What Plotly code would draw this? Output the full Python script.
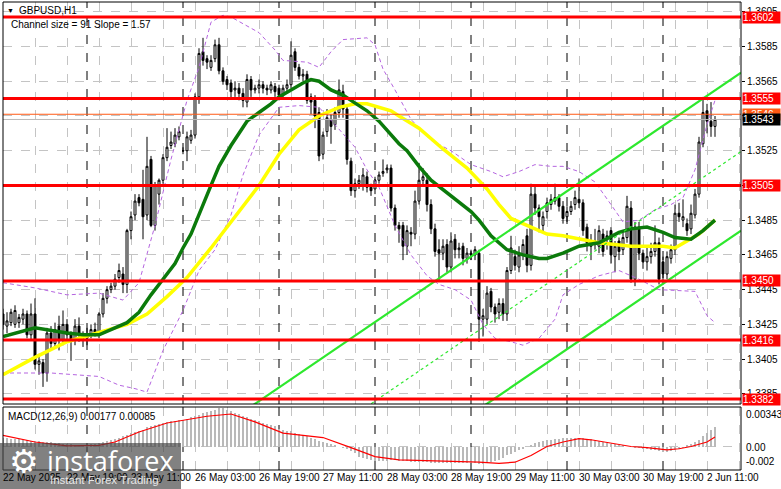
import plotly.graph_objects as go
from datetime import datetime, timedelta

# ---------------- data ----------------
bar_open = [
1.3431,1.3424,1.3426,1.3425,1.3426,1.3428,1.3431,1.3419,1.3431,1.3402,
1.3403,1.3397,1.3420,1.3414,1.3424,1.3416,1.3425,1.3419,1.3416,1.3424,
1.3419,1.3417,1.3419,1.3422,1.3419,1.3431,1.3440,1.3445,1.3447,1.3452,
1.3454,1.3448,1.3479,1.3488,1.3498,1.3497,1.3488,1.3520,1.3482,1.3500,
1.3508,1.3521,1.3528,1.3529,1.3533,1.3525,1.3525,1.3531,1.3534,1.3556,
1.3582,1.3578,1.3573,1.3578,1.3586,1.3571,1.3566,1.3564,1.3560,1.3561,
1.3558,1.3553,1.3566,1.3560,1.3561,1.3563,1.3561,1.3560,1.3562,1.3561,
1.3557,1.3561,1.3563,1.3582,1.3573,1.3568,1.3569,1.3556,1.3554,1.3547,
1.3523,1.3536,1.3543,1.3540,1.3547,1.3559,1.3549,1.3519,1.3502,1.3506,
1.3505,1.3510,1.3504,1.3503,1.3508,1.3512,1.3514,1.3515,1.3492,1.3482,
1.3482,1.3470,1.3478,1.3477,1.3496,1.3508,1.3508,1.3494,1.3480,1.3468,
1.3466,1.3471,1.3458,1.3474,1.3468,1.3470,1.3463,1.3466,1.3465,1.3466,
1.3428,1.3428,1.3444,1.3435,1.3432,1.3437,1.3431,1.3456,1.3464,1.3458,
1.3465,1.3476,1.3459,1.3500,1.3492,1.3482,1.3490,1.3494,1.3496,1.3498,
1.3493,1.3487,1.3490,1.3494,1.3497,1.3495,1.3481,1.3470,1.3472,1.3470,
1.3477,1.3475,1.3479,1.3464,1.3473,1.3468,1.3475,1.3492,1.3451,1.3481,
1.3466,1.3461,1.3464,1.3467,1.3472,1.3461,1.3454,1.3463,1.3468,1.3489,
1.3485,1.3483,1.3480,1.3488,1.3500,1.3529,1.3548,1.3542,1.3539]
bar_high = [
1.3434,1.3432,1.3434,1.3436,1.3431,1.3434,1.3433,1.3437,1.3440,1.3408,
1.3405,1.3423,1.3424,1.3426,1.3430,1.3433,1.3428,1.3421,1.3428,1.3429,
1.3421,1.3423,1.3425,1.3426,1.3432,1.3443,1.3447,1.3449,1.3454,1.3460,
1.3458,1.3480,1.3490,1.3500,1.3500,1.3514,1.3533,1.3522,1.3507,1.3509,
1.3523,1.3538,1.3536,1.3538,1.3539,1.3527,1.3536,1.3537,1.3558,1.3584,
1.3590,1.3580,1.3580,1.3589,1.3590,1.3573,1.3568,1.3566,1.3565,1.3564,
1.3561,1.3569,1.3568,1.3563,1.3566,1.3565,1.3563,1.3565,1.3564,1.3563,
1.3563,1.3566,1.3588,1.3584,1.3575,1.3572,1.3571,1.3558,1.3557,1.3550,
1.3536,1.3549,1.3546,1.3550,1.3566,1.3563,1.3551,1.3521,1.3509,1.3511,
1.3515,1.3513,1.3506,1.3510,1.3513,1.3520,1.3517,1.3517,1.3494,1.3484,
1.3484,1.3482,1.3481,1.3502,1.3518,1.3515,1.3512,1.3497,1.3483,1.3474,
1.3474,1.3474,1.3478,1.3477,1.3472,1.3472,1.3469,1.3468,1.3470,1.3468,
1.3434,1.3447,1.3446,1.3437,1.3440,1.3440,1.3458,1.3476,1.3468,1.3470,
1.3474,1.3480,1.3506,1.3505,1.3494,1.3490,1.3498,1.3500,1.3506,1.3500,
1.3496,1.3493,1.3496,1.3502,1.3509,1.3497,1.3483,1.3477,1.3480,1.3482,
1.3480,1.3479,1.3481,1.3473,1.3475,1.3478,1.3499,1.3496,1.3484,1.3484,
1.3468,1.3470,1.3472,1.3482,1.3475,1.3464,1.3467,1.3471,1.3494,1.3495,
1.3497,1.3486,1.3494,1.3503,1.3533,1.3556,1.3552,1.3553,1.3545]
bar_low = [
1.3422,1.3420,1.3424,1.3423,1.3423,1.3425,1.3417,1.3416,1.3399,1.3396,
1.3389,1.3392,1.3410,1.3411,1.3410,1.3413,1.3416,1.3404,1.3413,1.3415,
1.3412,1.3413,1.3417,1.3418,1.3417,1.3429,1.3437,1.3443,1.3445,1.3449,
1.3443,1.3443,1.3474,1.3485,1.3493,1.3474,1.3485,1.3481,1.3479,1.3494,
1.3506,1.3519,1.3526,1.3527,1.3531,1.3523,1.3519,1.3529,1.3532,1.3552,
1.3574,1.3572,1.3571,1.3576,1.3569,1.3563,1.3560,1.3555,1.3556,1.3554,
1.3550,1.3550,1.3556,1.3558,1.3558,1.3558,1.3557,1.3558,1.3556,1.3554,
1.3555,1.3559,1.3561,1.3571,1.3566,1.3565,1.3552,1.3546,1.3538,1.3519,
1.3520,1.3533,1.3529,1.3537,1.3544,1.3544,1.3517,1.3499,1.3498,1.3503,
1.3502,1.3501,1.3499,1.3500,1.3506,1.3510,1.3512,1.3490,1.3479,1.3472,
1.3462,1.3465,1.3470,1.3474,1.3494,1.3505,1.3490,1.3477,1.3464,1.3450,
1.3462,1.3455,1.3455,1.3463,1.3463,1.3459,1.3460,1.3462,1.3462,1.3415,
1.3418,1.3425,1.3432,1.3426,1.3428,1.3427,1.3427,1.3454,1.3456,1.3455,
1.3462,1.3455,1.3456,1.3488,1.3478,1.3478,1.3486,1.3491,1.3494,1.3490,
1.3483,1.3484,1.3488,1.3491,1.3492,1.3476,1.3467,1.3462,1.3468,1.3466,
1.3464,1.3468,1.3460,1.3455,1.3462,1.3465,1.3472,1.3449,1.3447,1.3462,
1.3457,1.3456,1.3460,1.3464,1.3448,1.3448,1.3451,1.3460,1.3465,1.3484,
1.3481,1.3476,1.3477,1.3486,1.3498,1.3527,1.3535,1.3533,1.3533]
bar_close = [
1.3425,1.3427,1.3432,1.3433,1.3429,1.3431,1.3419,1.3431,1.3402,1.3404,
1.3397,1.3420,1.3414,1.3422,1.3416,1.3425,1.3419,1.3416,1.3424,1.3419,
1.3417,1.3420,1.3422,1.3420,1.3431,1.3440,1.3445,1.3447,1.3451,1.3456,
1.3448,1.3479,1.3487,1.3496,1.3495,1.3487,1.3516,1.3482,1.3505,1.3508,
1.3521,1.3527,1.3530,1.3534,1.3536,1.3525,1.3533,1.3534,1.3556,1.3581,
1.3577,1.3576,1.3577,1.3586,1.3571,1.3565,1.3563,1.3559,1.3561,1.3558,
1.3554,1.3566,1.3560,1.3561,1.3563,1.3561,1.3560,1.3563,1.3559,1.3557,
1.3561,1.3563,1.3580,1.3573,1.3568,1.3569,1.3554,1.3553,1.3545,1.3522,
1.3534,1.3544,1.3539,1.3547,1.3560,1.3549,1.3520,1.3502,1.3506,1.3508,
1.3511,1.3504,1.3502,1.3508,1.3511,1.3513,1.3515,1.3492,1.3482,1.3480,
1.3470,1.3479,1.3477,1.3496,1.3508,1.3510,1.3494,1.3480,1.3467,1.3466,
1.3470,1.3458,1.3473,1.3468,1.3469,1.3463,1.3466,1.3465,1.3468,1.3428,
1.3430,1.3443,1.3435,1.3431,1.3437,1.3431,1.3456,1.3469,1.3459,1.3465,
1.3471,1.3459,1.3500,1.3492,1.3487,1.3487,1.3495,1.3497,1.3498,1.3493,
1.3486,1.3490,1.3493,1.3498,1.3495,1.3479,1.3472,1.3473,1.3473,1.3479,
1.3467,1.3476,1.3465,1.3470,1.3467,1.3475,1.3493,1.3451,1.3481,1.3466,
1.3461,1.3464,1.3467,1.3472,1.3451,1.3454,1.3464,1.3468,1.3489,1.3487,
1.3487,1.3479,1.3489,1.3500,1.3530,1.3547,1.3542,1.3539,1.3543]

# moving averages (bar index, price)
ma_green_idx = [0,8,16,20,24,27,31,34,37,40,43,45,47,52,54,57,61,64,67,69,72,75,77,79,82,85,87,91,94,97,
                99,101,104,107,111,117,119,122,126,130,134,136,140,144,149,154,157,161,165,168,172,175,178]
ma_green_val = [1.3418,1.3423,1.3420,1.3419,1.3419,1.3422,1.3426,1.3432,1.3442,1.3451,1.3460,1.3469,1.3477,
                1.3505,1.3516,1.3528,1.3542,1.3547,1.3552,1.3556,1.3560,1.3564,1.3566,1.3565,1.3560,1.3557,
                1.3554,1.3548,1.3542,1.3534,1.3529,1.3525,1.3516,1.3508,1.3501,1.3490,1.3485,1.3476,1.3468,
                1.3465,1.3463,1.3463,1.3466,1.3470,1.3472,1.3478,1.3480,1.3481,1.3478,1.3475,1.3474,1.3479,1.3485]
ma_yellow_idx = [0,8,16,22,25,31,36,41,46,52,64,69,74,79,84,88,91,94,97,99,104,110,116,121,124,127,131,136,
                 140,144,149,153,157,161,165,168,171,174,178]
ma_yellow_val = [1.3396,1.3406,1.3415,1.3419,1.3421,1.3425,1.3431,1.3441,1.3452,1.3469,1.3505,1.3523,1.3537,
                 1.3545,1.3550,1.3552,1.3552,1.3550,1.3548,1.3545,1.3538,1.3526,1.3515,1.3503,1.3494,1.3486,
                 1.3482,1.3477,1.3476,1.3474,1.3472,1.3471,1.3470,1.3470,1.3470,1.3469,1.3473,1.3477,1.3485]

# band lines (dashed violet)
band_up_idx = [0,8,16,24,30,34,38,42,46,49,52,55,57,64,68,70,76,79,82,85,91,93,95,98,102,107,112,117,122,
               125,129,133,137,140,144,148,152,155,159,163,167,170,173,176,178]
band_up_val = [1.3449,1.3446,1.3442,1.3443,1.3439,1.3449,1.3482,1.3520,1.3554,1.3573,1.3599,1.3603,1.3602,
               1.3593,1.3583,1.3577,1.3576,1.3573,1.3582,1.3589,1.3590,1.3586,1.3572,1.3560,1.3543,1.3531,
               1.3525,1.3517,1.3513,1.3510,1.3513,1.3517,1.3516,1.3516,1.3513,1.3507,1.3494,1.3484,1.3485,
               1.3491,1.3494,1.3498,1.3514,1.3540,1.3554]
band_lo_idx = [0,12,24,29,33,36,40,45,49,53,57,60,64,67,69,74,79,83,88,91,94,98,102,106,109,113,117,120,123,
               127,130,134,138,140,144,149,154,159,164,173,176,178]
band_lo_val = [1.3397,1.3397,1.3395,1.3390,1.3388,1.3386,1.3410,1.3433,1.3456,1.3468,1.3488,1.3511,1.3534,
               1.3544,1.3550,1.3551,1.3550,1.3540,1.3527,1.3514,1.3504,1.3482,1.3465,1.3453,1.3448,1.3445,
               1.3439,1.3425,1.3417,1.3415,1.3413,1.3417,1.3428,1.3442,1.3448,1.3453,1.3456,1.3451,1.3445,
               1.3444,1.3430,1.3426]

# MACD(12,26,9): main (histogram) per bar, signal line samples
macd_main = [
0.0008,0.0008,0.0007,0.0007,0.0007,0.0006,0.0006,0.0005,0.0005,0.0005,
0.0004,0.0004,0.0004,0.0003,0.0003,0.0002,0.0002,0.0002,0.0001,0.0001,
0.0001,0.0001,0.0002,0.0002,0.0003,0.0004,0.0005,0.0006,0.0007,0.0008,
0.0009,0.0010,0.0012,0.0013,0.0014,0.0015,0.0017,0.0018,0.0019,0.0020,
0.0021,0.0022,0.0023,0.0023,0.0024,0.0024,0.0025,0.0026,0.0027,0.0028,
0.0030,0.0031,0.0032,0.0033,0.0034,0.0034,0.0033,0.0032,0.0030,0.0029,
0.0027,0.0026,0.0025,0.0024,0.0023,0.0021,0.0020,0.0019,0.0018,0.0016,
0.0015,0.0014,0.0014,0.0012,0.0011,0.0010,0.0009,0.0008,0.0007,0.0005,
0.0004,0.0003,0.0002,0.0001,0.0000,-0.0001,-0.0002,-0.0004,-0.0006,-0.0009,
-0.0010,-0.0011,-0.0012,-0.0013,-0.0013,-0.0013,-0.0013,-0.0012,-0.0012,-0.0013,
-0.0013,-0.0013,-0.0014,-0.0014,-0.0014,-0.0014,-0.0014,-0.0015,-0.0015,-0.0015,
-0.0015,-0.0015,-0.0015,-0.0015,-0.0015,-0.0015,-0.0015,-0.0015,-0.0015,-0.0016,
-0.0016,-0.0015,-0.0014,-0.0013,-0.0012,-0.0010,-0.0008,-0.0007,-0.0005,-0.0003,
-0.0002,0.0000,0.0001,0.0003,0.0004,0.0005,0.0006,0.0006,0.0007,0.0007,
0.0008,0.0008,0.0008,0.0008,0.0008,0.0008,0.0007,0.0007,0.0006,0.0005,
0.0004,0.0003,0.0002,0.0002,0.0001,0.0001,0.0000,0.0000,-0.0001,-0.0001,
-0.0002,-0.0002,-0.0003,-0.0003,-0.0004,-0.0005,-0.0005,-0.0004,-0.0003,-0.0002,
-0.0001,0.0001,0.0002,0.0004,0.0006,0.0009,0.0012,0.0015,0.00177]
signal_idx = [0,8,16,24,28,34,41,46,51,57,63,70,76,80,87,93,99,111,119,124,128,132,136,140,144,147,152,157,
              161,166,169,172,176,178]
signal_val = [0.0010,0.0004,0.00005,0.0001,0.0004,0.0013,0.0021,0.0024,0.0027,0.0029,0.0022,0.0012,0.0010,
              0.0008,-0.0001,-0.0009,-0.0012,-0.0013,-0.0014,-0.0015,-0.0014,-0.0008,0.0000,0.0004,0.0007,
              0.0006,0.0003,0.0000,-0.0001,-0.0003,-0.0002,0.0000,0.0004,0.00085]

# levels and channel
red_levels = [1.3602, 1.3555, 1.3505, 1.3450, 1.3416, 1.3382]
ask_level = 1.3546
bid_level = 1.3543
grid_prices = [1.3385, 1.3405, 1.3425, 1.3445, 1.3465, 1.3485, 1.3505, 1.3525, 1.3545, 1.3565, 1.3585, 1.3605]
hidden_tick_labels = [1.3505, 1.3545]   # fully covered by the price tags in the picture
channel_size = 0.0091          # 91 pips
channel_slope = 0.000157       # 1.57 pips per bar
channel_anchor_idx = 184.5
channel_anchor_upper = 1.3570
channel_start_idx = 40
start_time = datetime(2025, 5, 22, 3)
n_bars = len(bar_close)
assert len(bar_open) == len(bar_high) == len(bar_low) == n_bars == len(macd_main) == 179
assert len(band_up_idx) == len(band_up_val) and len(band_lo_idx) == len(band_lo_val)

# bar times (hourly, skipping weekend)
times = []
t = start_time
while len(times) < n_bars:
    if t.weekday() < 5:
        times.append(t)
    t += timedelta(hours=1)
idx = list(range(n_bars))
day_starts = [i for i in range(1, n_bars) if times[i].date() != times[i - 1].date()]
label_idx = list(range(0, n_bars, 16))
label_txt = ["22 May 2025" if i == 0 else f"{times[i].day} {times[i].strftime('%b %H:%M')}" for i in label_idx]

# ---------------- layout geometry ----------------
W, H = 781, 489
ML, MR, MT, MB = 3, 40, 2, 19
PW, PH = W - ML - MR, H - MT - MB
def px_x(px): return (px - ML) / PW
def px_y(py): return (H - MB - py) / PH

X_RANGE = [0, 184.5]
PX_PER_UNIT = 17366.0
Y_TOP = 1.3602 + (17 - 2) / PX_PER_UNIT
Y_BOT = 1.3602 - (404 - 17) / PX_PER_UNIT
M_SCALE = 11200.0
M_TOP = (446.5 - 407) / M_SCALE
M_BOT = (446.5 - 470) / M_SCALE

FONT = "Liberation Sans, Arial, sans-serif"
fig = go.Figure()

fig.add_trace(go.Candlestick(
    x=idx, open=bar_open, high=bar_high, low=bar_low, close=bar_close,
    increasing=dict(line=dict(color="black", width=1), fillcolor="white"),
    decreasing=dict(line=dict(color="black", width=1), fillcolor="black"),
    whiskerwidth=0, hoverinfo="skip", xaxis="x", yaxis="y"))

for bx, by in [(band_up_idx, band_up_val), (band_lo_idx, band_lo_val)]:
    fig.add_trace(go.Scatter(x=bx, y=by, mode="lines", line=dict(color="#b565e0", width=1, dash="4px,3px"),
                             xaxis="x", yaxis="y"))

fig.add_trace(go.Scatter(x=ma_yellow_idx, y=ma_yellow_val, mode="lines",
                         line=dict(color="#ffff00", width=3.5), xaxis="x", yaxis="y"))
fig.add_trace(go.Scatter(x=ma_green_idx, y=ma_green_val, mode="lines",
                         line=dict(color="#0b7a0b", width=3.5), xaxis="x", yaxis="y"))

# regression channel
cx = [channel_start_idx, channel_anchor_idx]
up = [channel_anchor_upper - channel_slope * (channel_anchor_idx - channel_start_idx), channel_anchor_upper]
for off, dash, wd in [(0, "solid", 2.2), (channel_size / 2, "dot", 1.2), (channel_size, "solid", 2.2)]:
    fig.add_trace(go.Scatter(x=cx, y=[v - off for v in up], mode="lines",
                             line=dict(color="#2ee82e", width=wd, dash=dash), xaxis="x", yaxis="y"))

# horizontal levels
fig.add_trace(go.Scatter(x=X_RANGE, y=[bid_level] * 2, mode="lines",
                         line=dict(color="#b8b8b8", width=1), xaxis="x", yaxis="y"))
fig.add_trace(go.Scatter(x=X_RANGE, y=[ask_level] * 2, mode="lines",
                         line=dict(color="#ff5a14", width=1), xaxis="x", yaxis="y"))
for lv in red_levels:
    fig.add_trace(go.Scatter(x=X_RANGE, y=[lv] * 2, mode="lines",
                             line=dict(color="#ff0000", width=3), xaxis="x", yaxis="y"))

# MACD
fig.add_trace(go.Bar(x=idx, y=macd_main, width=0.55, marker=dict(color="#b9b9b9", line=dict(width=0)),
                     xaxis="x2", yaxis="y2"))
fig.add_trace(go.Scatter(x=signal_idx, y=signal_val, mode="lines", line=dict(color="#ff0000", width=1.2),
                         xaxis="x2", yaxis="y2"))

shapes = []
for d in day_starts:
    shapes.append(dict(type="line", xref="x", yref="y", x0=d, x1=d, y0=Y_BOT, y1=Y_TOP, layer="between",
                       line=dict(color="black", width=1, dash="dash")))
    shapes.append(dict(type="line", xref="x2", yref="y2", x0=d, x1=d, y0=M_BOT, y1=M_TOP, layer="between",
                       line=dict(color="black", width=1, dash="dash")))
shapes.append(dict(type="rect", xref="paper", yref="paper", x0=0, x1=1, y0=px_y(404), y1=1,
                   line=dict(color="black", width=1), fillcolor="rgba(0,0,0,0)"))
shapes.append(dict(type="rect", xref="paper", yref="paper", x0=0, x1=1, y0=0, y1=px_y(407),
                   line=dict(color="black", width=1), fillcolor="rgba(0,0,0,0)"))
# watermark box
shapes.append(dict(type="rect", xref="paper", yref="paper", x0=px_x(0), x1=px_x(181), y0=px_y(490), y1=px_y(443),
                   line=dict(width=0), fillcolor="rgba(70,70,70,0.68)", layer="above"))

anns = []
def txt(px, py, text, size=10, color="black", family=FONT, xanchor="left"):
    anns.append(dict(x=px_x(px), y=px_y(py), xref="paper", yref="paper", text=text, showarrow=False,
                     xanchor=xanchor, yanchor="middle", font=dict(size=size, color=color, family=family)))

txt(5, 10, "▼", size=7)
txt(17, 10, "GBPUSD,H1")
txt(9, 24, "Channel size = 91 Slope = 1.57")
txt(6, 416, "MACD(12,26,9) 0.00177 0.00085")
txt(744, 414, "0.00343")
txt(744, 447, "0.00")
txt(744, 461, "-0.002")

for i, s in zip(label_idx, label_txt):
    anns.append(dict(x=i, y=px_y(477), xref="x2", yref="paper", text=s, showarrow=False, xanchor="left",
                     yanchor="middle", xshift=-2, font=dict(size=10, color="black", family=FONT)))

def price_label(p, text, bg):
    anns.append(dict(x=1, y=p, xref="paper", yref="y", text=text, showarrow=False, xanchor="left",
                     yanchor="middle", xshift=1, width=37, height=11, align="left", borderpad=0,
                     bgcolor=bg, font=dict(size=10, color="white", family=FONT)))
for lv in red_levels:
    price_label(lv, f"{lv:.4f}", "#ff0000")
price_label(ask_level, f"{ask_level:.4f}", "#ff5a14")
price_label(bid_level, f"{bid_level:.4f}", "#000000")

# watermark text
txt(7, 461, "⚙", size=33, color="white", family="DejaVu Sans")
txt(45, 460, "instaforex", size=27, color="white", family="Open Sans, Liberation Sans")
txt(48, 480, "Instant Forex Trading", size=11.5, color="#e6e6e6")

tick_text = ["" if p in hidden_tick_labels else f"{p:.4f}" for p in grid_prices]

fig.update_layout(
    width=W, height=H, margin=dict(l=ML, r=MR, t=MT, b=MB, autoexpand=False),
    paper_bgcolor="white", plot_bgcolor="white", showlegend=False, hovermode=False,
    font=dict(family=FONT, size=10, color="black"), bargap=0,
    xaxis=dict(domain=[0, 1], anchor="y", range=X_RANGE, tickvals=list(range(0, 185, 8)),
               showticklabels=False, ticks="", showgrid=True, gridcolor="#c4c4c4", griddash="dash",
               gridwidth=1, zeroline=False, rangeslider=dict(visible=False), automargin=False),
    xaxis2=dict(domain=[0, 1], anchor="y2", range=X_RANGE, matches="x", tickvals=list(range(0, 185, 8)),
                showticklabels=False, ticks="", showgrid=True, gridcolor="#c4c4c4", griddash="dash",
                zeroline=False, rangeslider=dict(visible=False), automargin=False),
    yaxis=dict(domain=[px_y(404), 1], range=[Y_BOT, Y_TOP], side="right", anchor="x",
               tickvals=grid_prices, ticktext=tick_text,
               ticks="outside", ticklen=3, tickcolor="black", tickfont=dict(size=10, family=FONT),
               showgrid=True, gridcolor="#c4c4c4", griddash="dash", zeroline=False, automargin=False),
    yaxis2=dict(domain=[0, px_y(407)], range=[M_BOT, M_TOP], side="right", anchor="x2",
                tickvals=[0], showticklabels=False, ticks="", showgrid=True, gridcolor="#c4c4c4",
                griddash="dash", zeroline=False, automargin=False),
    shapes=shapes, annotations=anns,
)

fig.write_html("out.html", config={"displayModeBar": False, "staticPlot": True},
               post_script="document.body.style.margin='0';document.body.style.overflow='hidden';")
